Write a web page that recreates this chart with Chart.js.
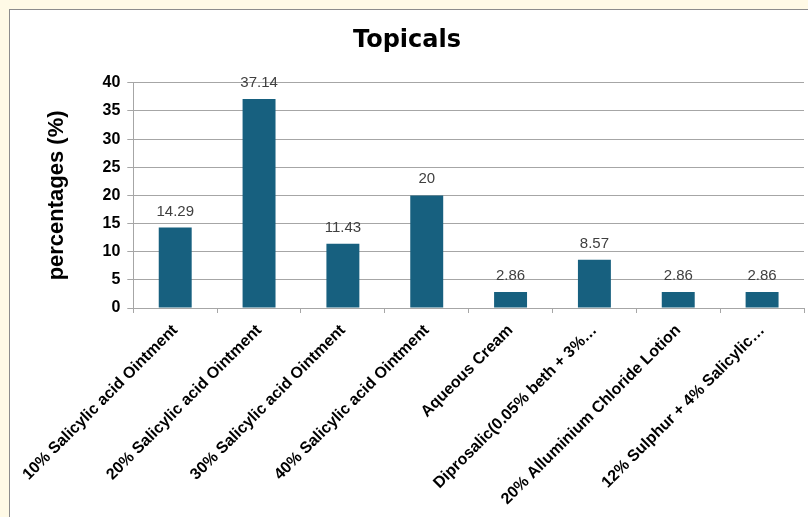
<!DOCTYPE html>
<html>
<head>
<meta charset="utf-8">
<script src="https://cdn.jsdelivr.net/npm/chart.js@4.4.1/dist/chart.umd.min.js"></script>
<style>
    html, body { margin: 0; padding: 0; background: #fffae6; overflow: hidden; }
    #box {
        position: absolute; left: 9px; top: 9px; width: 799px; height: 508px;
        background: #ffffff; border-left: 1px solid #8c8c8c; border-top: 1px solid #8c8c8c;
    }
    #wrap { position: absolute; left: 0; top: 0; width: 798px; height: 507px; }
</style>
</head>
<body>
<div id="box"><div id="wrap"><canvas id="topicalsChart"></canvas></div></div>
<script>
const categories = [
    '10% Salicylic acid Ointment',
    '20% Salicylic acid Ointment',
    '30% Salicylic acid Ointment',
    '40% Salicylic acid Ointment',
    'Aqueous Cream',
    'Diprosalic(0.05% beth + 3%\u2026',
    '20% Alluminium Chloride Lotion',
    '12% Sulphur + 4% Salicylic\u2026'
];
const percentages = [14.29, 37.14, 11.43, 20, 2.86, 8.57, 2.86, 2.86];
const valueLabels = ['14.29', '37.14', '11.43', '20', '2.86', '8.57', '2.86', '2.86'];
const yTicks = [0, 5, 10, 15, 20, 25, 30, 35, 40];

const FONT = "'Liberation Sans', Arial, sans-serif";

// draws the number above every bar
const barValues = {
    id: 'barValues',
    afterDatasetsDraw(chart) {
        const ctx = chart.ctx;
        const meta = chart.getDatasetMeta(0);
        ctx.save();
        ctx.font = '15px ' + FONT;
        ctx.fillStyle = '#404040';
        ctx.textAlign = 'center';
        ctx.textBaseline = 'alphabetic';
        meta.data.forEach((bar, i) => {
            ctx.fillText(valueLabels[i], bar.x, bar.y - 12);
        });
        ctx.restore();
    }
};

const ctx = document.getElementById('topicalsChart').getContext('2d');
const myChart = new Chart(ctx, {
    type: 'bar',
    data: {
        labels: categories,
        datasets: [{
            label: 'Topicals',
            data: percentages,
            backgroundColor: '#17607f',
            borderWidth: 0,
            categoryPercentage: 1,
            barPercentage: 0.393
        }]
    },
    options: {
        responsive: true,
        maintainAspectRatio: false,
        animation: false,
        layout: { padding: { right: 4 } },
        plugins: {
            legend: { display: false },
            tooltip: { enabled: false },
            title: {
                display: true,
                text: 'Topicals',
                color: '#000000',
                font: { family: "'DejaVu Sans', sans-serif", size: 24, weight: 'bold' },
                padding: { top: 16, bottom: 28 }
            }
        },
        scales: {
            x: {
                grid: {
                    drawOnChartArea: false,
                    drawTicks: true,
                    tickLength: 5,
                    color: '#a6a6a6',
                    offset: true
                },
                border: { display: true, color: '#a6a6a6' },
                ticks: {
                    autoSkip: false,
                    minRotation: 45,
                    maxRotation: 45,
                    padding: 8,
                    color: '#000000',
                    font: { family: FONT, size: 16, weight: 'bold' }
                },
                afterFit: s => { s.height = 209; }
            },
            y: {
                min: 0,
                max: 40,
                afterBuildTicks: s => { s.ticks = yTicks.map(v => ({ value: v })); },
                grid: { color: '#a6a6a6', tickLength: 6 },
                border: { display: true, color: '#a6a6a6' },
                ticks: {
                    padding: 7,
                    color: '#000000',
                    font: { family: FONT, size: 16, weight: 'bold' }
                },
                title: {
                    display: true,
                    text: 'percentages (%)',
                    color: '#000000',
                    font: { family: FONT, size: 22, weight: 'bold' },
                    padding: { top: 31, bottom: 0 }
                },
                afterFit: s => { s.width = 121; }
            }
        }
    },
    plugins: [barValues]
});
</script>
</body>
</html>
